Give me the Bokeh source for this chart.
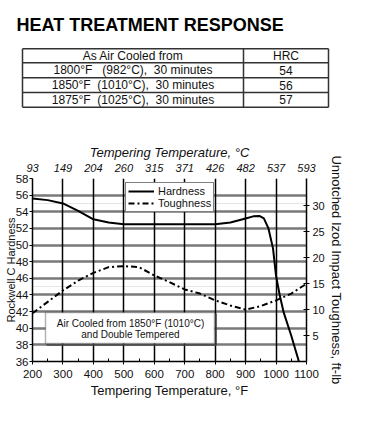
from bokeh.plotting import figure
from bokeh.models import (Range1d, LinearAxis, FixedTicker, Legend, LegendItem, Label,
                          BoxAnnotation, Grid, Arrow)
from bokeh.embed import file_html
from bokeh.resources import INLINE
from bokeh.core.properties import value

FONT = "Liberation Sans"

# ---------------- data ----------------
title_text = "HEAT TREATMENT RESPONSE"
table_header = ["As Air Cooled from", "HRC"]
table_conditions = ["1800°F\u00a0\u00a0\u00a0(982°C),\u00a0\u00a030 minutes",
                    "1850°F\u00a0\u00a0(1010°C),\u00a0\u00a030 minutes",
                    "1875°F\u00a0\u00a0(1025°C),\u00a0\u00a030 minutes"]
table_hrc = ["54", "56", "57"]

hard_temp = [200, 250, 300, 350, 400, 450, 500, 600, 700, 800, 850, 900, 925, 945, 960,
             975, 990, 1000, 1012, 1025, 1050, 1075]
hardness = [55.6, 55.4, 55.0, 54.1, 53.1, 52.7, 52.5, 52.5, 52.5, 52.5, 52.7, 53.2, 53.45,
            53.5, 53.2, 52.0, 49.6, 46.3, 44.0, 41.9, 39.1, 36.0]

tough_temp = [200, 250, 300, 350, 400, 450, 500, 550, 600, 650, 700, 750, 800, 850, 900,
              950, 1000, 1050, 1100]
toughness = [9.3, 11.5, 13.7, 15.6, 17.1, 18.2, 18.4, 18.2, 16.6, 15.3, 13.9, 13.1, 11.8,
             10.8, 10.0, 10.7, 11.8, 13.1, 15.0]

f_ticks = [200, 300, 400, 500, 600, 700, 800, 900, 1000, 1100]
f_minor = [250, 350, 450, 550, 650, 750, 850, 950, 1050]
c_labels = ["93", "149", "204", "260", "315", "371", "426", "482", "537", "593"]
hrc_ticks = [36, 38, 40, 42, 44, 46, 48, 50, 52, 54, 56, 58]
tough_ticks = [5, 10, 15, 20, 25, 30]

x_title_f = "Tempering Temperature, °F"
x_title_c = "Tempering Temperature, °C"
y_title_left = "Rockwell C Hardness"
y_title_right = "Unnotched Izod Impact Toughness, ft-lb"
note_lines = ["Air Cooled from 1850°F (1010°C)", "and Double Tempered"]

# ---------------- layout constants (page pixels) ----------------
W = 366
TOP_H = 112
CH = 316
FL, FT, FW, FH = 32, 178 - TOP_H, 274, 183
X0, X1 = 200, 1100
Y0, Y1 = 36, 58
T1 = 35.3


def ix(px):  # chart px -> data x
    return X0 + (px - FL) * (X1 - X0) / FW


def iy(py):  # page px -> data y
    return Y1 - (py - TOP_H - FT) * (Y1 - Y0) / FH


# ---------------- top: title + table (own root, page pixel coordinates) ----------------
top = figure(width=W, height=TOP_H, x_range=Range1d(0, W), y_range=Range1d(TOP_H, 0),
             output_backend="svg", toolbar_location=None, min_border=0,
             x_axis_location=None, y_axis_location=None)
top.grid.visible = False
top.outline_line_color = None
top.background_fill_color = "white"
top.border_fill_color = "white"

top.text(x=[16], y=[24.5], text=[title_text], text_font=value(FONT), text_font_size="18px",
         text_font_style="bold", text_baseline="middle", text_align="left", text_color="black")

tl, tr, tdiv = 22, 328, 243
row_y = [48.3, 62.3, 77.3, 92.0, 106.7]
top.segment(x0=[tl] * len(row_y), y0=row_y, x1=[tr] * len(row_y), y1=row_y,
            line_color="#333333", line_width=1.5)
top.segment(x0=[tl, tdiv, tr], y0=[row_y[0]] * 3, x1=[tl, tdiv, tr], y1=[row_y[-1]] * 3,
            line_color="#333333", line_width=1.5)

left_col = [table_header[0]] + table_conditions
right_col = [table_header[1]] + table_hrc
mid_y = [(row_y[i] + row_y[i + 1]) / 2 for i in range(len(row_y) - 1)]
top.text(x=[(tl + tdiv) / 2] * len(left_col), y=mid_y, text=left_col, text_font=value(FONT),
         text_font_size="12px", text_align="center", text_baseline="middle", text_color="#111111")
top.text(x=[(tdiv + tr) / 2] * len(right_col), y=mid_y, text=right_col, text_font=value(FONT),
         text_font_size="12px", text_align="center", text_baseline="middle", text_color="#111111")

# ---------------- chart ----------------
p = figure(width=W, height=CH, x_range=Range1d(X0, X1), y_range=Range1d(Y0, Y1),
           output_backend="svg", toolbar_location=None,
           min_border_left=FL, min_border_right=W - FL - FW, min_border_top=FT,
           min_border_bottom=CH - FT - FH, x_axis_location=None, y_axis_location=None)
p.extra_y_ranges = {"tough": Range1d(0, T1)}
p.outline_line_color = None
p.background_fill_color = "white"
p.border_fill_color = "white"

ygrid = Grid(dimension=1, ticker=FixedTicker(ticks=hrc_ticks), grid_line_color="#7a7a7a",
             grid_line_width=2.5)
xgrid = Grid(dimension=0, ticker=FixedTicker(ticks=f_ticks), grid_line_color="black",
             grid_line_width=1.5)
p.add_layout(ygrid)
p.add_layout(xgrid)

bottom = LinearAxis(ticker=FixedTicker(ticks=f_ticks, minor_ticks=f_minor), axis_label=x_title_f,
                    axis_label_text_font=FONT, axis_label_text_font_size="13px",
                    axis_label_text_font_style="normal", axis_label_standoff=2,
                    major_label_text_font=FONT, major_label_text_font_size="11.5px",
                    major_label_standoff=5, major_tick_out=3, major_tick_in=0,
                    minor_tick_in=3, minor_tick_out=0, axis_line_width=1.5,
                    major_label_text_color="#111111", axis_label_text_color="#111111")
p.add_layout(bottom, "below")

left = LinearAxis(ticker=FixedTicker(ticks=hrc_ticks), axis_label=y_title_left,
                  axis_label_text_font=FONT, axis_label_text_font_size="11px",
                  axis_label_text_font_style="normal", axis_label_standoff=-4,
                  major_label_text_font=FONT, major_label_text_font_size="11.5px",
                  major_label_standoff=1, major_tick_out=3, major_tick_in=0,
                  axis_line_width=1.5, major_label_text_color="#111111",
                  axis_label_text_color="#111111")
p.add_layout(left, "left")

right = LinearAxis(y_range_name="tough", ticker=FixedTicker(ticks=tough_ticks),
                   axis_label=y_title_right, axis_label_text_font=FONT,
                   axis_label_text_font_size="13px", axis_label_text_font_style="normal",
                   axis_label_standoff=1, major_label_text_font=FONT,
                   major_label_text_font_size="11px", major_label_standoff=3,
                   major_tick_out=3, major_tick_in=3, axis_line_width=1.5,
                   major_label_text_color="#111111", axis_label_text_color="#111111")
p.add_layout(right, "right")

top_axis = LinearAxis(ticker=FixedTicker(ticks=f_ticks),
                      major_label_overrides={t: c for t, c in zip(f_ticks, c_labels)},
                      axis_label=x_title_c, axis_label_text_font=FONT,
                      axis_label_text_font_size="13px", axis_label_text_font_style="italic",
                      axis_label_standoff=1, major_label_text_font=FONT,
                      major_label_text_font_size="11px", major_label_text_font_style="italic",
                      major_label_standoff=7, major_tick_out=0, major_tick_in=0,
                      axis_line_color=None, major_label_text_color="#111111",
                      axis_label_text_color="#111111")
p.add_layout(top_axis, "above")

r_h = p.line(hard_temp, hardness, line_color="black", line_width=2, line_join="round")
r_t = p.line(tough_temp, toughness, y_range_name="tough", line_color="black", line_width=2,
             line_dash="6 3 2 3")

legend = Legend(items=[LegendItem(label="Hardness", renderers=[r_h]),
                       LegendItem(label="Toughness", renderers=[r_t])],
                location=(125 - FL, 361 - 212), margin=0, padding=2, spacing=0,
                glyph_width=26, glyph_height=12, label_height=12, label_standoff=4,
                label_text_font=FONT, label_text_font_size="11px", label_text_color="#111111",
                border_line_color="black", border_line_width=1.5, background_fill_alpha=1)
p.add_layout(legend)

# note box (inside the frame)
bl, br, bt, bb = 45, 214, 312, 343
box = BoxAnnotation(left=ix(bl), right=ix(br), top=iy(bt), bottom=iy(bb),
                    fill_color="white", fill_alpha=1, line_color="black", line_width=1.5)
p.add_layout(box)
p.add_layout(Arrow(end=None, start=None, x_start=ix(br + 1.5), y_start=iy(bt + 1),
                   x_end=ix(br + 1.5), y_end=iy(bb + 1.5), line_color="#444444", line_width=1.5))
p.add_layout(Arrow(end=None, start=None, x_start=ix(bl + 1), y_start=iy(bb + 1.5),
                   x_end=ix(br + 1.5), y_end=iy(bb + 1.5), line_color="#444444", line_width=1.5))
for i, t in enumerate(note_lines):
    p.add_layout(Label(x=ix(130), y=iy(323 + 11 * i), text=t, text_align="center",
                       text_baseline="middle", text_font=FONT, text_font_size="10px",
                       text_color="#111111"))

open("out.html", "w").write(file_html([top, p], INLINE))
